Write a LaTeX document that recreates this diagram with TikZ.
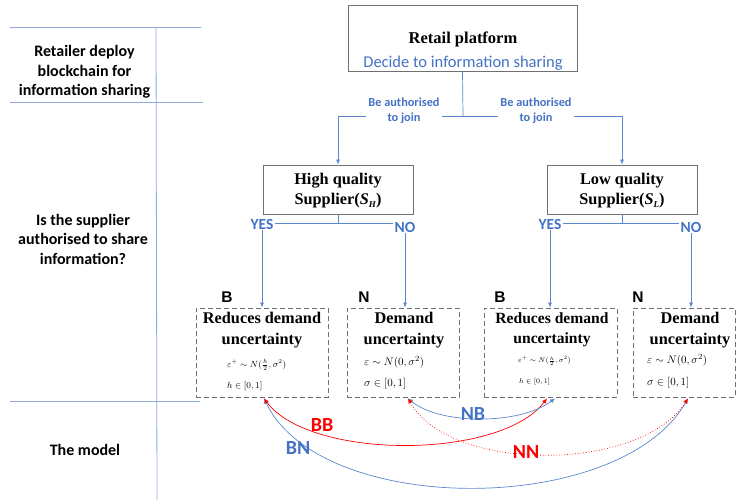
\documentclass[tikz,border=0pt]{standalone}
\usepackage{fontspec}
\setmainfont{Liberation Serif}
\setsansfont{Carlito}
\newfontfamily\arialfont{Liberation Sans}
\usetikzlibrary{arrows.meta}
\definecolor{myblue}{HTML}{4472C4}
\definecolor{connblue}{HTML}{5B87D0}
\definecolor{gridblue}{HTML}{8FAADC}
\definecolor{boxgray}{HTML}{707070}
\definecolor{myred}{HTML}{FF0000}
\newcommand\fsz[2]{\fontsize{#1}{#2}\selectfont}
\tikzset{
  sidelabel/.style={font=\sffamily\bfseries\fsz{16}{19.5}, align=center, inner sep=0pt},
  solidbox/.style={draw=boxgray, line width=0.8pt, inner sep=0pt},
  dashbox/.style={draw=boxgray, line width=0.8pt, dash pattern=on 5pt off 3pt, inner sep=0pt},
  serifhead/.style={font=\rmfamily\bfseries\fsz{16.3}{20.5}, align=center, inner sep=0pt},
  conn/.style={draw=connblue, line width=0.7pt},
  arr/.style={conn, -{Latex[length=5pt,width=4pt]}},
  bluelab/.style={font=\sffamily\bfseries\fsz{12.3}{15}, text=myblue, align=center, fill=white, inner sep=2.5pt},
  yn/.style={font=\sffamily\bfseries\fsz{15.5}{18}, text=myblue, inner sep=1pt},
  bn/.style={font=\arialfont\bfseries\fsz{15.5}{18}, inner sep=0pt},
  formula/.style={anchor=west, inner sep=0pt},
  curvelab/.style={font=\sffamily\bfseries\fsz{20}{22}, inner sep=0pt},
  gridline/.style={draw=gridblue, line width=0.8pt},
  twotips/.style={{Latex[length=5pt,width=4.5pt]}-{Latex[length=5pt,width=4.5pt]}},
}
\begin{document}
\begin{tikzpicture}[x=1pt,y=-1pt]
\useasboundingbox (0,0) rectangle (739,500);

% grid lines on the left
\coordinate (g1a) at (10,27);   \coordinate (g1b) at (201,27);
\coordinate (g2a) at (10,102);  \coordinate (g2b) at (203,102);
\coordinate (g3a) at (10,401);  \coordinate (g3b) at (200,401);
\coordinate (vt) at (156,27);   \coordinate (vb) at (157,500);
\draw[gridline] (g1a) -- (g1b);
\draw[gridline] (g2a) -- (g2b);
\draw[gridline] (g3a) -- (g3b);
\draw[gridline] (vt) -- (vb);

% side labels
\node[sidelabel] (s1) at (84.5,72) {Retailer deploy\\blockchain for\\information sharing};
\node[sidelabel] (s2) at (83,239) {Is the supplier\\authorised to share\\information?};
\node[sidelabel] (s3) at (85,450) {The model};

% retail platform
\node[solidbox, minimum width=229pt, minimum height=66pt] (rp) at (462.5,38) {};
\node[font=\rmfamily\bfseries\fsz{16.5}{20}, inner sep=0pt] (rpt) at (463,39) {Retail platform};
\node[font=\sffamily\fsz{16.5}{20}, text=myblue, inner sep=0pt] (rpd) at (463,63) {Decide to information sharing};

% suppliers
\node[solidbox, minimum width=150pt, minimum height=49pt] (hq) at (338,189.5) {};
\node[serifhead] (hqt) at (338,190.5) {High quality\\Supplier(\textit{S}\raisebox{-0.35ex}{\fsz{9}{9}\textit{H}})};
\node[solidbox, minimum width=150pt, minimum height=49pt] (lq) at (622,189.5) {};
\node[serifhead] (lqt) at (622,190.5) {Low quality\\Supplier(\textit{S}\raisebox{-0.35ex}{\fsz{9}{9}\textit{L}})};

% authorisation connectors
\coordinate (j1) at (463,116);
\draw[conn] (rp.south) -- (j1);
\draw[arr] (j1) -| (hq.north);
\draw[arr] (j1) -| (lq.north);
\node[bluelab] (a1) at (404,110.5) {Be authorised\\to join};
\node[bluelab] (a2) at (536,110.5) {Be authorised\\to join};

% bottom boxes
\node[dashbox, minimum width=132pt, minimum height=89pt] (b1) at (262,352.5) {};
\node[dashbox, minimum width=112pt, minimum height=89pt] (b2) at (403,352.5) {};
\node[dashbox, minimum width=133pt, minimum height=89pt] (b3) at (550.5,352.5) {};
\node[dashbox, minimum width=102pt, minimum height=89pt] (b4) at (684,352.5) {};

\node[serifhead] (b1t) at (262,330) {Reduces demand\\uncertainty};
\node[serifhead] (b2t) at (404,330) {Demand\\uncertainty};
\node[serifhead, font=\rmfamily\bfseries\fsz{15.6}{20.5}] (b3t) at (552,330) {Reduces demand\\uncertainty};
\node[serifhead] (b4t) at (690,330) {Demand\\uncertainty};

\node[formula, font=\fsz{9}{11}] (f1a) at (227,365) {$\varepsilon^{+}\sim N(\frac{h}{2},\sigma^{2})$};
\node[formula, font=\fsz{9}{11}] (f1b) at (227,386) {$h\in[0,1]$};
\node[formula, font=\fsz{11}{13}] (f2a) at (364,362) {$\varepsilon\sim N(0,\sigma^{2})$};
\node[formula, font=\fsz{11}{13}] (f2b) at (364,384) {$\sigma\in[0,1]$};
\node[formula, font=\fsz{7.5}{9}] (f3a) at (518,361) {$\varepsilon^{+}\sim N(\frac{h}{2},\sigma^{2})$};
\node[formula, font=\fsz{7.5}{9}] (f3b) at (519,382) {$h\in[0,1]$};
\node[formula, font=\fsz{11}{13}] (f4a) at (647,360) {$\varepsilon\sim N(0,\sigma^{2})$};
\node[formula, font=\fsz{11}{13}] (f4b) at (647,383) {$\sigma\in[0,1]$};

% B / N labels
\node[bn] (lb1) at (227,297) {B};
\node[bn] (ln1) at (364,297) {N};
\node[bn] (lb2) at (500,297) {B};
\node[bn] (ln2) at (638,297) {N};

% YES / NO
\node[yn] (yes1) at (262,224) {YES};
\node[yn] (no1) at (405,227) {NO};
\node[yn] (yes2) at (550,224) {YES};
\node[yn] (no2) at (691,227) {NO};
\coordinate (h1) at (338,223);
\coordinate (h2) at (622,223);
\draw[conn] (hq.south) -- (h1);
\draw[conn] (yes1.east |- h1) -- (no1.west |- h1);
\draw[conn] (lq.south) -- (h2);
\draw[conn] (yes2.east |- h2) -- (no2.west |- h2);
\draw[arr] (yes1.south) -- (b1.north);
\draw[arr] (no1.south) -- (no1 |- b2.north);
\draw[arr] (yes2.south) -- (yes2 |- b3.north);
\draw[arr] (no2.south) -- (no2 |- b4.north);

% model curves
\coordinate (e1) at ([xshift=2pt,yshift=-1pt]b1.south);
\coordinate (e2) at ([xshift=5pt,yshift=-1pt]b2.south);
\coordinate (e3r) at ([xshift=-3.5pt,yshift=-1pt]b3.south);
\coordinate (e3b) at ([xshift=4.5pt,yshift=-1pt]b3.south);
\coordinate (e4) at ([xshift=4pt,yshift=-1pt]b4.south);

\draw[connblue, line width=0.7pt, twotips] (e1) .. controls (320,517) and (620,517) .. (e4);
\draw[myred, line width=0.7pt, twotips] (e1) .. controls (310,460) and (500,460) .. (e3r);
\draw[connblue, line width=0.7pt, twotips] (e2) .. controls (440,425) and (520,425) .. (e3b);
\draw[myred, line width=0.7pt, dotted, twotips] (e2) .. controls (450,473) and (640,473) .. (e4);

\node[curvelab, text=myred] (lbb) at (322,425) {BB};
\node[curvelab, text=myblue] (lbn) at (298,448) {BN};
\node[curvelab, text=myblue] (lnb) at (473,414) {NB};
\node[curvelab, text=myred] (lnn) at (526,452) {NN};
\end{tikzpicture}
\end{document}
